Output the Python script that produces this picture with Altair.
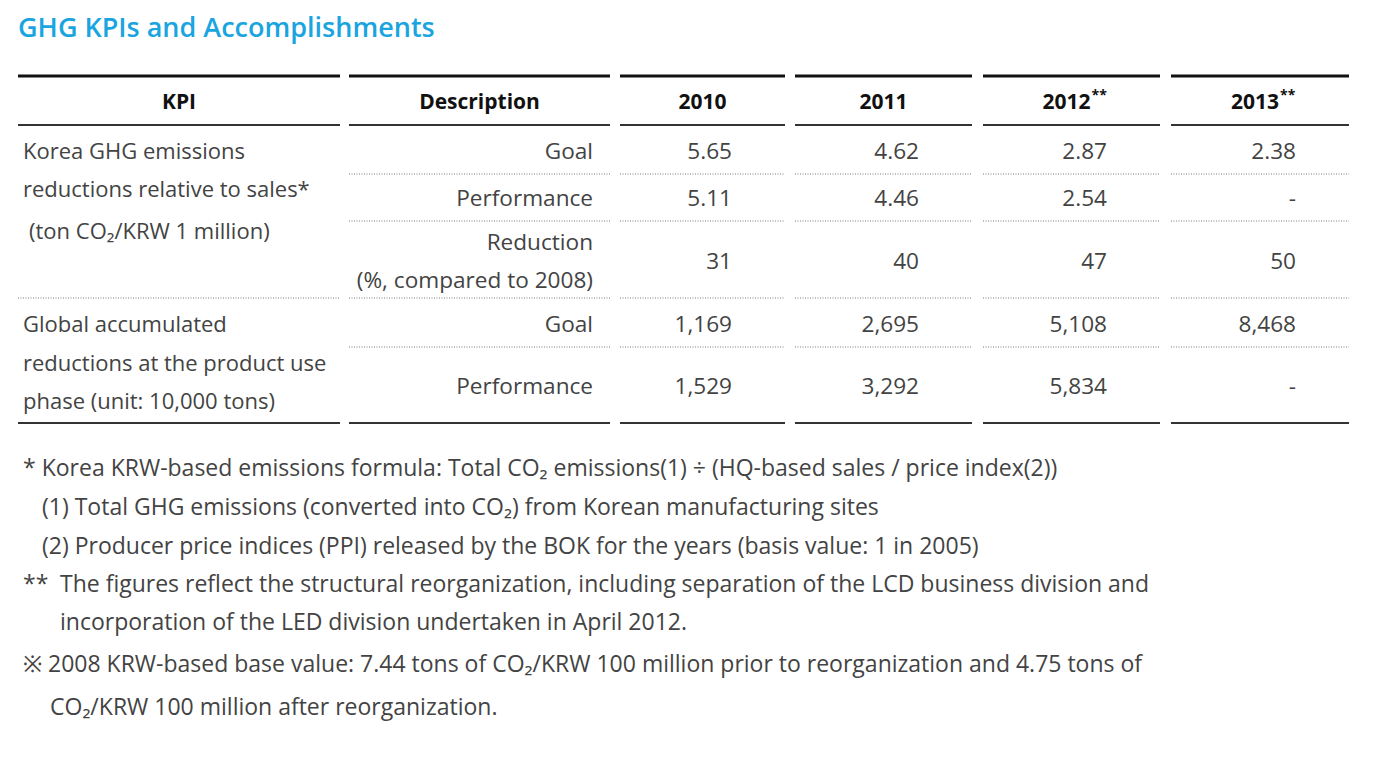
import altair as alt
import pandas as pd

# ---------------- data ----------------
title_text = "GHG KPIs and Accomplishments"
header_labels = ["KPI", "Description", "2010", "2011", "2012", "2013"]
header_marks = ["", "", "", "", "**", "**"]

kpi1_lines = ["Korea GHG emissions", "reductions relative to sales*", "(ton CO₂/KRW 1 million)"]
kpi2_lines = ["Global accumulated", "reductions at the product use", "phase (unit: 10,000 tons)"]

desc_rows = [["Goal"], ["Performance"], ["Reduction", "(%, compared to 2008)"], ["Goal"], ["Performance"]]

goal_ratio = ["5.65", "4.62", "2.87", "2.38"]
perf_ratio = ["5.11", "4.46", "2.54", "-"]
reduction_pct = ["31", "40", "47", "50"]
global_goal = ["1,169", "2,695", "5,108", "8,468"]
global_perf = ["1,529", "3,292", "5,834", "-"]
value_rows = [goal_ratio, perf_ratio, reduction_pct, global_goal, global_perf]

footnotes = [
    ("* Korea KRW-based emissions formula: Total CO₂ emissions(1) ÷ (HQ-based sales / price index(2))", 0),
    ("(1) Total GHG emissions (converted into CO₂) from Korean manufacturing sites", 1),
    ("(2) Producer price indices (PPI) released by the BOK for the years (basis value: 1 in 2005)", 1),
    ("**", 0),
    ("The figures reflect the structural reorganization, including separation of the LCD business division and", 2),
    ("incorporation of the LED division undertaken in April 2012.", 2),
    ("※ 2008 KRW-based base value: 7.44 tons of CO₂/KRW 100 million prior to reorganization and 4.75 tons of", 0),
    ("CO₂/KRW 100 million after reorganization.", 3),
]

# ---------------- layout (page pixels) ----------------
col_edges = [(18, 340), (349, 610), (620, 785), (795, 972), (983, 1160), (1171, 1349)]
top_y, head_y, head_bottom_y, bottom_y = 76, 103, 125, 423
row_y = [152, 199, 262, 325, 387]
desc_line_y = [[152], [199], [243, 281], [325], [387]]
kpi1_y = [152, 190, 232]
kpi1_indent = [0, 0, 6]
kpi2_y = [325, 364, 402]
dotted = [(174, 1), (221, 1), (298, 0), (347, 1)]
foot_y = [469, 508, 547, 585, 585, 623, 665, 708]
foot_x = [23, 42, 60, 50]
desc_right_pad = 17
value_right_pad = 53
sup_shift = 19
title_x, title_baseline = 18, 37

FONT = "Open Sans"
BODY = "#434343"

# ---------------- tables ----------------
thick = pd.DataFrame([{"x": a, "x2": b, "y": top_y} for a, b in col_edges])
medium = pd.DataFrame(
    [{"x": a, "x2": b, "y": head_bottom_y} for a, b in col_edges]
    + [{"x": a, "x2": b, "y": bottom_y} for a, b in col_edges]
)
dots = pd.DataFrame([{"x": a, "x2": b, "y": y} for y, start in dotted for a, b in col_edges[start:]])

header_plain = pd.DataFrame([{"x": (a + b) / 2, "y": head_y, "t": lab}
                             for (a, b), lab, m in zip(col_edges, header_labels, header_marks) if not m])
header_base = pd.DataFrame([{"x": (a + b) / 2 + sup_shift, "y": head_y, "t": lab}
                            for (a, b), lab, m in zip(col_edges, header_labels, header_marks) if m])
header_sup = pd.DataFrame([{"x": (a + b) / 2 + sup_shift + 1, "y": head_y - 7, "t": m}
                           for (a, b), lab, m in zip(col_edges, header_labels, header_marks) if m])

kpi_txt = pd.DataFrame(
    [{"x": col_edges[0][0] + 5 + d, "y": y, "t": t} for t, y, d in zip(kpi1_lines, kpi1_y, kpi1_indent)]
    + [{"x": col_edges[0][0] + 5, "y": y, "t": t} for t, y in zip(kpi2_lines, kpi2_y)]
)
foot_txt = pd.DataFrame([{"x": foot_x[ind], "y": y, "t": t} for (t, ind), y in zip(footnotes, foot_y)])

right_txt = pd.DataFrame(
    [{"x": col_edges[1][1] - desc_right_pad, "y": y, "t": t}
     for lines, ys in zip(desc_rows, desc_line_y) for t, y in zip(lines, ys)]
    + [{"x": col_edges[2 + j][1] - value_right_pad, "y": row_y[i], "t": v}
       for i, row in enumerate(value_rows) for j, v in enumerate(row)]
)

title_df = pd.DataFrame([{"x": title_x, "y": title_baseline, "t": title_text}])

xs = alt.Scale(domain=[8, 1367], nice=False, zero=False)
ys = alt.Scale(domain=[8, 753], nice=False, zero=False, reverse=True)


def X(f="x"):
    return alt.X(f, type="quantitative", scale=xs, axis=None)


def Y(f="y"):
    return alt.Y(f, type="quantitative", scale=ys, axis=None)


def txt(df, baseline="middle", **kw):
    return alt.Chart(df).mark_text(font=FONT, baseline=baseline, **kw).encode(x=X(), y=Y(), text="t")


rule_thick = alt.Chart(thick).mark_rule(color="#111111", strokeWidth=3).encode(x=X(), x2="x2", y=Y())
rule_med = alt.Chart(medium).mark_rule(color="#333333", strokeWidth=2).encode(x=X(), x2="x2", y=Y())
rule_dot = alt.Chart(dots).mark_rule(color="#7a7a7a", strokeWidth=1, strokeDash=[1, 1.5]).encode(
    x=X(), x2="x2", y=Y())

layers = [
    rule_thick, rule_med, rule_dot,
    txt(title_df, baseline="alphabetic", fontSize=27, fontWeight=600, color="#1aa5e0", align="left"),
    txt(header_plain, fontSize=21, fontWeight="bold", color="#111111", align="center"),
    txt(header_base, fontSize=21, fontWeight="bold", color="#111111", align="right"),
    txt(header_sup, fontSize=14, fontWeight="bold", color="#111111", align="left"),
    txt(kpi_txt, fontSize=22, color=BODY, align="left"),
    txt(foot_txt, fontSize=23, color=BODY, align="left"),
    txt(right_txt, fontSize=22.6, color=BODY, align="right"),
]

chart = alt.layer(*layers).properties(
    width=1359, height=745, padding=0, autosize=alt.AutoSizeParams(type="none")
).configure_view(stroke=None)

chart.save("out.html", embed_options={"renderer": "svg", "actions": False})
